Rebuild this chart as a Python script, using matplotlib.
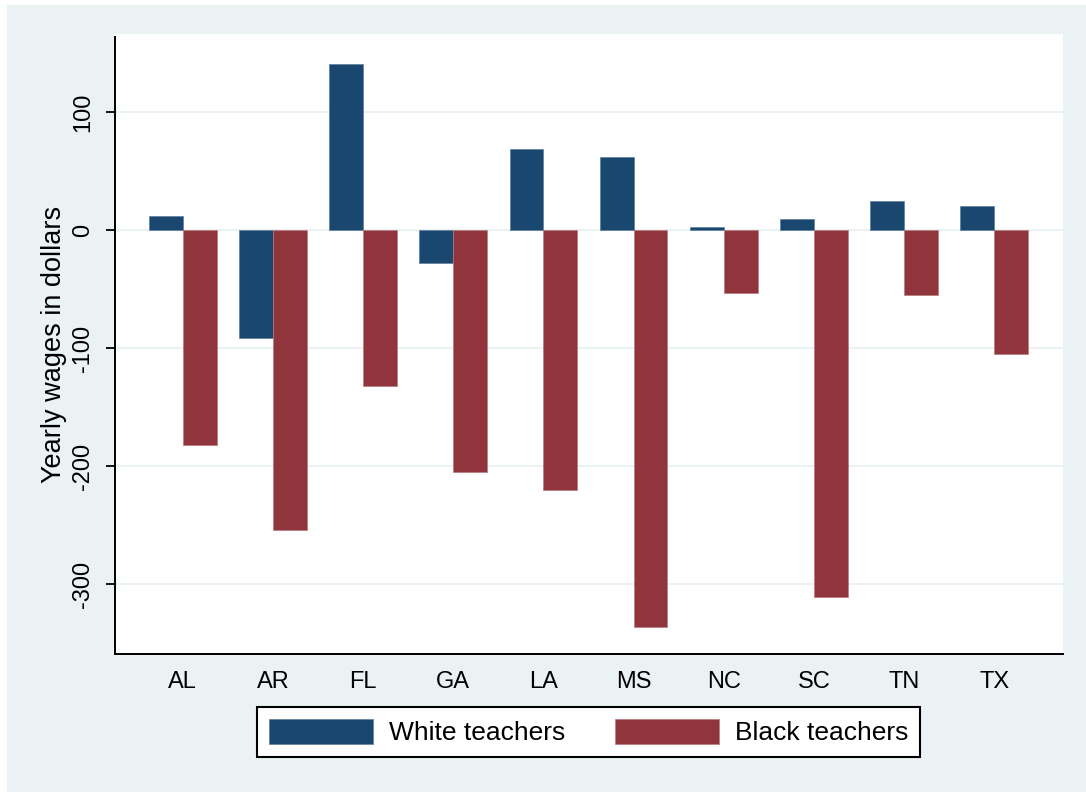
import matplotlib
matplotlib.use("Agg")
import matplotlib.pyplot as plt
from matplotlib.patches import Rectangle
import numpy as np

# Wage changes by state (dollars per year)
states = ["AL", "AR", "FL", "GA", "LA", "MS", "NC", "SC", "TN", "TX"]
white_teachers = [12, -91, 141, -28, 69, 62, 3, 10, 25, 21]
black_teachers = [-182, -254, -132, -205, -220, -336, -53, -311, -55, -105]
series_labels = ["White teachers", "Black teachers"]
y_ticks = [-300, -200, -100, 0, 100]

navy = "#1A476F"
maroon = "#90353B"
bg = "#EAF2F3"

plt.rcParams["font.family"] = ["Liberation Sans", "DejaVu Sans"]

W, H = 1086, 792
fig = plt.figure(figsize=(W / 100, H / 100), dpi=100, facecolor="white")

# outer graph region
fig.patches.append(Rectangle((7 / W, 0), 1 - 7 / W, 1 - 5 / H,
                             transform=fig.transFigure, facecolor=bg,
                             edgecolor="none", zorder=-10))

ax = fig.add_axes([115 / W, 1 - 654 / H, (1063 - 115) / W, (654 - 34) / H])
ax.set_facecolor("white")

x = np.arange(len(states))
width = 0.375
ax.bar(x - width / 2, white_teachers, width, color=navy,
       edgecolor="#5F7F9C", linewidth=0.5, label=series_labels[0], zorder=3)
ax.bar(x + width / 2, black_teachers, width, color=maroon,
       edgecolor="#B97A7E", linewidth=0.5, label=series_labels[1], zorder=3)

ax.set_xlim(-0.751, 9.762)
ax.set_ylim(-359, 166.5)

ax.set_yticks(y_ticks)
ax.set_yticklabels([str(v) for v in y_ticks], rotation=90, va="center")
ax.set_xticks(x)
ax.set_xticklabels(states)

ax.yaxis.grid(True, color=bg, linewidth=1.5, zorder=0)
ax.xaxis.grid(False)
ax.set_axisbelow(True)

for side in ["top", "right"]:
    ax.spines[side].set_visible(False)
for side in ["left", "bottom"]:
    ax.spines[side].set_linewidth(1.4)
    ax.spines[side].set_color("black")
ax.spines["left"].set_bounds(-359, 164)

ax.tick_params(axis="y", direction="out", length=6.5, width=1.3,
               pad=8.5, labelsize=17, color="black")
ax.tick_params(axis="x", length=0, pad=12, labelsize=17)

ax.set_ylabel("Yearly wages in dollars", fontsize=19.5, labelpad=4)

leg = ax.legend(loc="center", bbox_to_anchor=(588.5 / W, 1 - 732 / H),
                bbox_transform=fig.transFigure, ncol=2, fontsize=19,
                frameon=True, fancybox=False, shadow=False,
                handlelength=3.94, handleheight=1.1, handletextpad=0.6,
                columnspacing=1.9, borderpad=0.45, borderaxespad=0)
frame = leg.get_frame()
frame.set_edgecolor("black")
frame.set_linewidth(1.5)
frame.set_facecolor("white")
frame.set_alpha(1)

fig.savefig("out.png", dpi=100, facecolor=fig.get_facecolor())
